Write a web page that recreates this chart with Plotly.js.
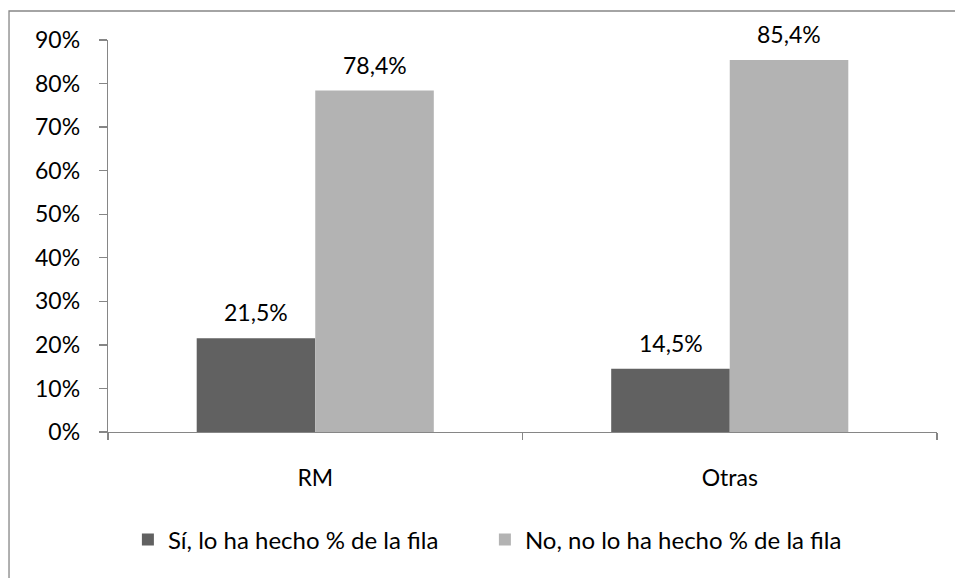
<!DOCTYPE html>
<html>
<head>
<meta charset="utf-8">
<script src="https://cdn.plot.ly/plotly-3.0.1.min.js"></script>
<style>
  html, body { margin: 0; padding: 0; background: #ffffff; }
  #chart { width: 955px; height: 578px; }
</style>
</head>
<body>
<div id="chart"></div>
<script>
// Categories and series (percent of row)
const categories = ["RM", "Otras"];
const seriesNames = ["Sí, lo ha hecho % de la fila", "No, no lo ha hecho % de la fila"];
const siValues = [21.5, 14.5];
const noValues = [78.4, 85.4];
const yTickValues = [0, 10, 20, 30, 40, 50, 60, 70, 80, 90];

const FONT = "Lato, 'Open Sans', sans-serif";
const FONT_SIZE = 23;
const AXIS_GREY = "#868686";
const colors = ["#616161", "#b3b3b3"];
const seriesValues = [siValues, noValues];

const traces = seriesValues.map((vals, i) => ({
  type: "bar",
  name: seriesNames[i],
  x: categories,
  y: vals,
  marker: { color: colors[i], line: { width: 0 } },
  hoverinfo: "skip"
}));

// Value labels above each bar, offset to the left/right half of the group
const barPx = 59.25;
const annotations = [];
seriesValues.forEach((vals, i) => {
  vals.forEach((v, j) => {
    annotations.push({
      x: categories[j], y: v, xref: "x", yref: "y",
      text: v.toFixed(1).replace(".", ",") + "%",
      showarrow: false,
      xshift: (i === 0 ? -1 : 1) * barPx,
      yanchor: "bottom", yshift: 10,
      font: { family: FONT, size: FONT_SIZE, color: "#000000" }
    });
  });
});

const layout = {
  width: 955, height: 578,
  margin: { l: 108, r: 18, t: 40, b: 146 },
  paper_bgcolor: "#ffffff",
  plot_bgcolor: "#ffffff",
  font: { family: FONT, size: FONT_SIZE, color: "#000000" },
  barmode: "group",
  bargap: 0.428,
  bargroupgap: 0,
  showlegend: true,
  legend: {
    orientation: "h",
    x: 0.024, xanchor: "left",
    y: -0.2755, yanchor: "middle",
    font: { family: FONT, size: 24, color: "#000000" },
    itemwidth: 30,
    entrywidth: 312, entrywidthmode: "pixels",
    traceorder: "normal"
  },
  xaxis: {
    type: "category",
    showgrid: false,
    zeroline: false,
    showline: true, linecolor: AXIS_GREY, linewidth: 1.3,
    ticks: "outside", tickson: "boundaries", ticklen: 7, tickcolor: AXIS_GREY, tickwidth: 1.3,
    ticklabelstandoff: 25,
    fixedrange: true
  },
  yaxis: {
    range: [0, 90],
    tickvals: yTickValues,
    ticktext: yTickValues.map(v => v + "%"),
    showgrid: false,
    zeroline: false,
    showline: true, linecolor: AXIS_GREY, linewidth: 1.3,
    ticks: "outside", ticklen: 8, tickcolor: AXIS_GREY, tickwidth: 1.3,
    ticklabelstandoff: 14,
    fixedrange: true
  },
  annotations: annotations,
  shapes: [{
    type: "rect", xref: "paper", yref: "paper",
    x0: -0.1194, x1: 1.2, y0: -0.6, y1: 1.074,
    line: { color: AXIS_GREY, width: 1.3 },
    fillcolor: "rgba(0,0,0,0)",
    layer: "below"
  }]
};

Plotly.newPlot("chart", traces, layout, { displayModeBar: false, staticPlot: true });
</script>
</body>
</html>
